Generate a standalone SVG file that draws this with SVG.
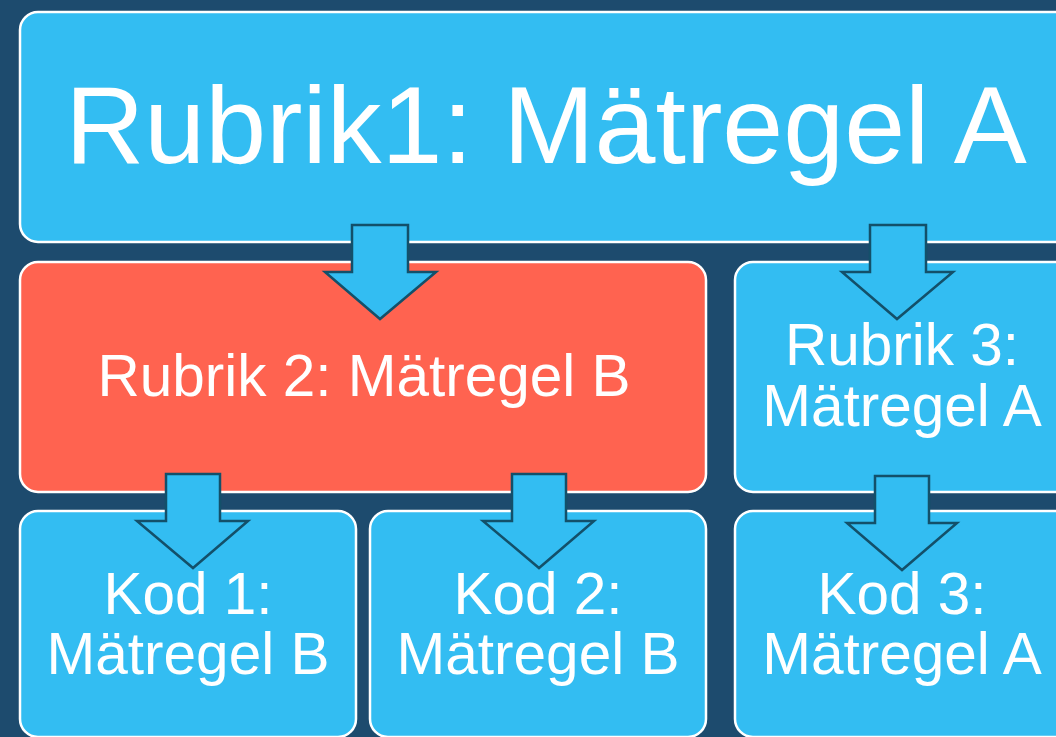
<svg xmlns="http://www.w3.org/2000/svg" width="1056" height="737" viewBox="0 0 1056 737">
<defs>
<style>
.box{fill:#33BDF2;stroke:#FFFFFF;stroke-width:2.5}
.red{fill:#FF6350;stroke:#FFFFFF;stroke-width:2.5}
.arr{fill:#33BDF2;stroke:#13506A;stroke-width:2.5;stroke-linejoin:miter}
text{font-family:"Liberation Sans",Arial,sans-serif;fill:#FFFFFF;text-anchor:middle}
.big{font-size:109.5px}
.mid{font-size:58.5px}
</style>
</defs>
<rect x="0" y="0" width="1056" height="737" fill="#1D4B6E"/>
<g id="node-rubrik1">
<rect class="box" x="20" y="12" width="1060" height="230" rx="18"/>
<text class="big" x="546" y="163">Rubrik1: Mätregel A</text>
</g>
<g id="node-rubrik2">
<rect class="red" x="20" y="262" width="686" height="230" rx="18"/>
<text class="mid" x="364" y="396">Rubrik 2: Mätregel B</text>
</g>
<g id="node-rubrik3">
<rect class="box" x="735" y="262" width="345" height="230" rx="18"/>
<text class="mid" x="902" y="365">Rubrik 3:</text>
<text class="mid" x="902" y="426">Mätregel A</text>
</g>
<g id="node-kod1">
<rect class="box" x="20" y="511" width="336" height="226" rx="18"/>
<text class="mid" x="188" y="614">Kod 1:</text>
<text class="mid" x="188" y="674">Mätregel B</text>
</g>
<g id="node-kod2">
<rect class="box" x="370" y="511" width="336" height="226" rx="18"/>
<text class="mid" x="538" y="614">Kod 2:</text>
<text class="mid" x="538" y="674">Mätregel B</text>
</g>
<g id="node-kod3">
<rect class="box" x="735" y="511" width="345" height="226" rx="18"/>
<text class="mid" x="902" y="614">Kod 3:</text>
<text class="mid" x="902" y="674">Mätregel A</text>
</g>
<g id="connectors">
<polygon class="arr" points="352,225 408,225 408,272 436,272 380,319 325,272 352,272"/>
<polygon class="arr" points="870,225 926,225 926,272 953,272 897,319 842,272 870,272"/>
<polygon class="arr" points="166,474 220,474 220,521 248,521 193,568 137,521 166,521"/>
<polygon class="arr" points="512,474 566,474 566,521 594,521 539,568 483,521 512,521"/>
<polygon class="arr" points="875,476 929,476 929,523 957,523 902,570 847,523 875,523"/>
</g>
</svg>
